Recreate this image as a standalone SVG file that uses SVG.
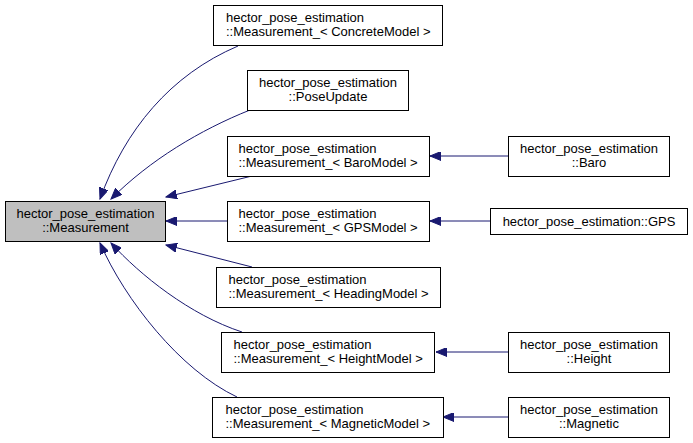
<svg xmlns="http://www.w3.org/2000/svg" width="693" height="443" viewBox="0 0 693 443">
<style>
.n rect{fill:#fff;stroke:#000;stroke-width:1}
.n text{font-family:"Liberation Sans",Arial,sans-serif;font-size:13px;fill:#000}
.c{text-anchor:middle}
.e path{fill:none;stroke:#191970;stroke-width:1;marker-end:url(#ah)}
</style>
<defs>
<marker id="ah" markerUnits="userSpaceOnUse" markerWidth="12" markerHeight="9" refX="11" refY="4.5" orient="auto">
<path d="M0,0 L11,4.5 L0,9 z" fill="#191970" stroke="#191970" stroke-width="1"/>
</marker>
</defs>
<rect width="693" height="443" fill="#fff"/>
<g class="e">
<path d="M238,46 C170,75 125,130 100,199"/>
<path d="M250,110 C200,130 150,160 111,199"/>
<path d="M252,176 L166,197"/>
<path d="M227,221 L166,221"/>
<path d="M252,267 L166,245"/>
<path d="M242,332 C190,315 140,275 111,243"/>
<path d="M237,397 C180,370 125,300 100,243"/>
<path d="M508,156 L430,156"/>
<path d="M491,221 L430,221"/>
<path d="M508,352 L436,352"/>
<path d="M508,417 L443,417"/>
</g>
<g id="measurement" class="n">
<rect x="5.5" y="201.5" width="160" height="40" style="fill:#bfbfbf"/>
<text class="c" x="85.5" y="218">hector_pose_estimation</text>
<text class="c" x="85.5" y="232">::Measurement</text>
</g>
<g id="concrete" class="n">
<rect x="213.5" y="5.5" width="229" height="40"/>
<text x="226" y="22">hector_pose_estimation</text>
<text x="226" y="36">::Measurement_&lt; ConcreteModel &gt;</text>
</g>
<g id="poseupdate" class="n">
<rect x="247.5" y="70.5" width="161" height="40"/>
<text class="c" x="328" y="87">hector_pose_estimation</text>
<text class="c" x="328" y="101">::PoseUpdate</text>
</g>
<g id="baromodel" class="n">
<rect x="227.5" y="136.5" width="202" height="40"/>
<text x="238.5" y="153">hector_pose_estimation</text>
<text x="238.5" y="167">::Measurement_&lt; BaroModel &gt;</text>
</g>
<g id="gpsmodel" class="n">
<rect x="227.5" y="201.5" width="202" height="40"/>
<text x="238.5" y="218">hector_pose_estimation</text>
<text x="238.5" y="232">::Measurement_&lt; GPSModel &gt;</text>
</g>
<g id="headingmodel" class="n">
<rect x="216.5" y="267.5" width="224" height="40"/>
<text x="228.5" y="284">hector_pose_estimation</text>
<text x="228.5" y="298">::Measurement_&lt; HeadingModel &gt;</text>
</g>
<g id="heightmodel" class="n">
<rect x="221.5" y="332.5" width="213" height="40"/>
<text x="233.5" y="349">hector_pose_estimation</text>
<text x="233.5" y="363">::Measurement_&lt; HeightModel &gt;</text>
</g>
<g id="magneticmodel" class="n">
<rect x="212.5" y="397.5" width="231" height="40"/>
<text x="225.5" y="414">hector_pose_estimation</text>
<text x="225.5" y="428">::Measurement_&lt; MagneticModel &gt;</text>
</g>
<g id="baro" class="n">
<rect x="508.5" y="136.5" width="161" height="40"/>
<text class="c" x="589" y="153">hector_pose_estimation</text>
<text class="c" x="589" y="167">::Baro</text>
</g>
<g id="gps" class="n">
<rect x="490.5" y="208.5" width="197" height="26"/>
<text class="c" x="589" y="226">hector_pose_estimation::GPS</text>
</g>
<g id="height" class="n">
<rect x="508.5" y="332.5" width="161" height="40"/>
<text class="c" x="589" y="349">hector_pose_estimation</text>
<text class="c" x="589" y="363">::Height</text>
</g>
<g id="magnetic" class="n">
<rect x="508.5" y="397.5" width="161" height="40"/>
<text class="c" x="589" y="414">hector_pose_estimation</text>
<text class="c" x="589" y="428">::Magnetic</text>
</g>
</svg>
